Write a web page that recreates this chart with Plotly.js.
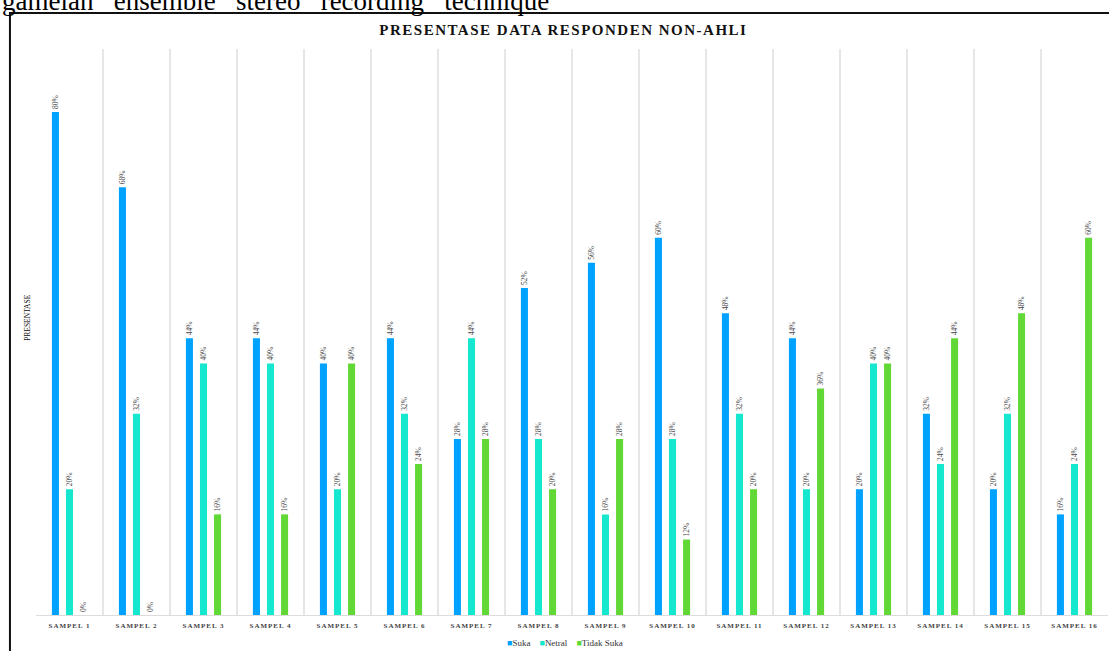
<!DOCTYPE html>
<html>
<head>
<meta charset="utf-8">
<script src="https://cdn.plot.ly/plotly-3.0.1.min.js"></script>
<style>
html,body{margin:0;padding:0;background:#fff;}
#chart{width:1109px;height:651px;}
.gtitle{letter-spacing:1.5px;}
.xtick text{letter-spacing:1px;}
</style>
</head>
<body>
<div id="chart"></div>
<script>
const categories = ["SAMPEL 1","SAMPEL 2","SAMPEL 3","SAMPEL 4","SAMPEL 5","SAMPEL 6","SAMPEL 7","SAMPEL 8","SAMPEL 9","SAMPEL 10","SAMPEL 11","SAMPEL 12","SAMPEL 13","SAMPEL 14","SAMPEL 15","SAMPEL 16"];
const suka      = [80,68,44,44,40,44,28,52,56,60,48,44,20,32,20,16];
const netral    = [20,32,40,40,20,32,44,28,16,28,32,20,40,24,32,24];
const tidakSuka = [0,0,16,16,40,24,28,20,28,12,20,36,40,44,48,60];
const seriesNames = ["Suka","Netral","Tidak Suka"];
const seriesColors = ["#00A2FF","#16E7CF","#61D836"];
const seriesValues = [suka, netral, tidakSuka];

const serif = "Liberation Serif, Times New Roman, serif";

const traces = seriesValues.map((vals, i) => ({
  type: "bar",
  name: seriesNames[i],
  x: categories,
  y: vals,
  marker: {color: seriesColors[i], line: {width: 0}},
  texttemplate: "%{y}%",
  textposition: "outside",
  textangle: -90,
  constraintext: "none",
  cliponaxis: false,
  textfont: {family: serif, size: 7.5, color: "#444"},
  hoverinfo: "x+y+name"
}));

// legend built from the series names and colours
const legendText = seriesNames.map((n, i) =>
  "<span style='color:" + seriesColors[i] + "'>\u25A0</span>" + n
).join("\u00A0\u00A0\u00A0\u00A0");

const layout = {
  width: 1109,
  height: 651,
  margin: {l: 36, r: 1, t: 49, b: 36, pad: 0},
  paper_bgcolor: "#fff",
  plot_bgcolor: "#fff",
  barmode: "group",
  bargap: 0.37,
  bargroupgap: 0.5,
  showlegend: false,
  title: {
    text: "<b>PRESENTASE DATA RESPONDEN NON-AHLI</b>",
    font: {family: serif, size: 15, color: "#111"},
    x: 0.508, xref: "container", xanchor: "center",
    y: 0.955, yref: "container", yanchor: "middle"
  },
  xaxis: {
    type: "category",
    tickson: "boundaries",
    showgrid: true,
    gridcolor: "#e6e6e6",
    gridwidth: 1.5,
    showline: true,
    linecolor: "#dcdcdc",
    linewidth: 1,
    ticks: "",
    ticklabelstandoff: 4,
    tickfont: {family: serif, size: 7, color: "#444", weight: "bold"},
    fixedrange: true
  },
  yaxis: {
    range: [0, 90],
    showgrid: false,
    zeroline: false,
    showticklabels: false,
    ticks: "",
    fixedrange: true
  },
  shapes: [{
    type: "rect", xref: "paper", yref: "paper",
    x0: -0.0243, x1: 1.01, y0: -0.08, y1: 1.0636,
    line: {color: "#111", width: 2},
    fillcolor: "rgba(0,0,0,0)",
    layer: "above"
  }],
  annotations: [{
    text: "gamelan\u00A0\u00A0\u00A0ensemble\u00A0\u00A0\u00A0stereo\u00A0\u00A0\u00A0recording\u00A0\u00A0\u00A0technique",
    xref: "paper", yref: "paper",
    x: -0.0336, xanchor: "left",
    y: 1.054, yanchor: "bottom",
    showarrow: false,
    font: {family: serif, size: 27, color: "#000"}
  }, {
    text: "PRESENTASE",
    xref: "paper", yref: "paper",
    x: -0.0075, xanchor: "center",
    y: 0.525, yanchor: "middle",
    textangle: -90,
    showarrow: false,
    font: {family: serif, size: 7.5, color: "#111"}
  }, {
    text: legendText,
    xref: "paper", yref: "paper",
    x: 0.4935, xanchor: "center",
    y: -0.0495, yanchor: "middle",
    showarrow: false,
    font: {family: serif, size: 9, color: "#333"}
  }]
};

Plotly.newPlot("chart", traces, layout, {displayModeBar: false, staticPlot: true});
</script>
</body>
</html>
